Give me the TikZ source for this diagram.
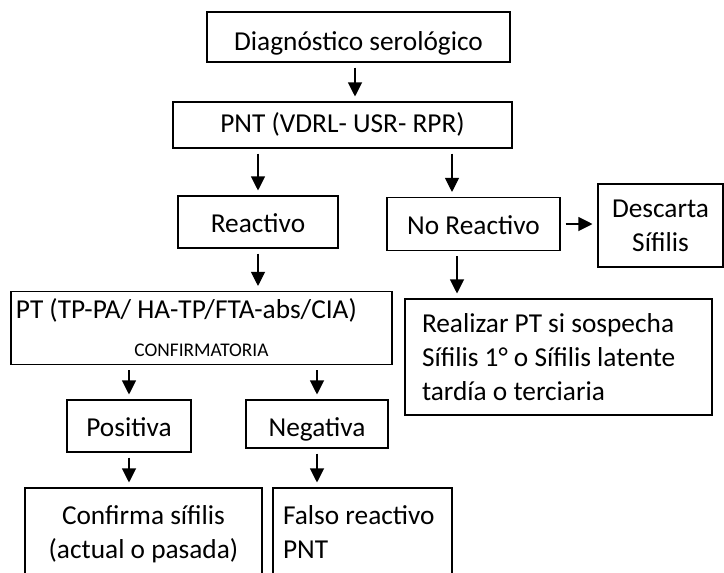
\documentclass[tikz,border=0pt]{standalone}
\usepackage{fontspec}
\setmainfont{Carlito}
\usetikzlibrary{arrows.meta}
\newdimen\pxu
\pxu=0.75pt

\begin{document}
\begin{tikzpicture}[x=0.75pt, y=-0.75pt,
    box/.style={draw, line width=0.8pt, inner sep=0pt, font=\fontsize{20.5}{25.5}\selectfont},
    single/.style={text height=15pt, text depth=0pt},
    arr/.style={-{Triangle[width=10.5pt,length=10.5pt]}, line width=0.8pt, shorten <=3.75pt, shorten >=3.75pt}]
      % Frame
      \useasboundingbox (0,0) rectangle (724,572);
      \clip (0,0) rectangle (724,572);

      % Boxes
      \node[box, single, text height=19.5pt, minimum width=303\pxu, minimum height=50\pxu] (diag) at (358.5,37) {Diagnóstico serológico};
      \node[box, single, text height=11pt, minimum width=339\pxu, minimum height=46\pxu] (pnt) at (342.5,125) {PNT (VDRL- USR- RPR)};
      \node[box, single, minimum width=160\pxu, minimum height=52\pxu] (react) at (258,222) {Reactivo};
      \node[box, single, minimum width=173\pxu, minimum height=53\pxu] (noreact) at (473.5,224) {No Reactivo};
      \node[box, minimum width=125\pxu, minimum height=83\pxu, align=center] (descarta) at (660.5,225.5) {Descarta\\Sífilis};
      \node[box, text width=273\pxu, inner xsep=17\pxu, minimum height=116\pxu, align=flush left] (realizar) at (558.5,357)
        {Realizar PT si sospecha\\Sífilis 1° o Sífilis latente\\tardía o terciaria};
      \node[box, text width=371\pxu, inner xsep=5\pxu, minimum height=73\pxu, align=flush left] (pt) at (201.5,328)
        {PT (TP-PA/ HA-TP/FTA-abs/CIA)\par{\centering\fontsize{14.5}{28.5}\selectfont CONFIRMATORIA\par}};
      \node[box, single, minimum width=124\pxu, minimum height=52\pxu] (pos) at (129,426) {Positiva};
      \node[box, single, text height=18pt, minimum width=142\pxu, minimum height=48\pxu] (neg) at (317,424) {Negativa};
      \node[box, minimum width=237\pxu, minimum height=92\pxu, align=center] (conf) at (143.5,534) {Confirma sífilis\\(actual o pasada)};
      \node[box, text width=159\pxu, inner xsep=10\pxu, minimum height=92\pxu, align=flush left] (falso) at (362.5,534) {Falso reactivo\\PNT\vphantom{(}};

      % Arrows
      \draw[arr] (diag.south -| 355,0) -- (pnt.north -| 355,0);
      \draw[arr] (pnt.south -| react.north) -- (react.north);
      \draw[arr] (pnt.south -| 452,0) -- (noreact.north -| 452,0);
      \draw[arr] (noreact.east) -- (descarta.west |- noreact.east);
      \draw[arr] (noreact.south -| 457,0) -- (realizar.north -| 457,0);
      \draw[arr] (react.south) -- (react.south |- pt.north);
      \draw[arr] (pt.south -| pos.north) -- (pos.north);
      \draw[arr] (pt.south -| neg.north) -- (neg.north);
      \draw[arr] (pos.south) -- (pos.south |- conf.north);
      \draw[arr] (neg.south) -- (neg.south |- falso.north);
    \end{tikzpicture}
\end{document}
